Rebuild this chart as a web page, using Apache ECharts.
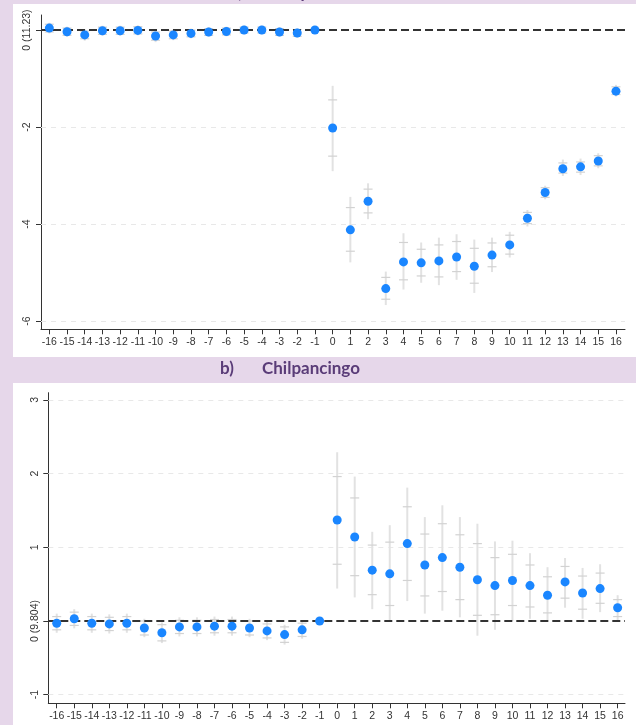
<!DOCTYPE html>
<html>
<head>
<meta charset="utf-8">
<script src="https://cdn.jsdelivr.net/npm/echarts@6/dist/echarts.min.js"></script>
<style>
  html, body { margin: 0; padding: 0; background: #e6d7ea; }
  .panel { position: absolute; left: 13px; width: 623px; background: #fff; }
  #chart { position: absolute; left: 0; top: 0; width: 636px; height: 725px; }
</style>
</head>
<body>
<div class="panel" style="top:4px;height:353px"></div>
<div class="panel" style="top:383px;height:342px"></div>
<div id="chart"></div>
<script>
const periods = [-16, -15, -14, -13, -12, -11, -10, -9, -8, -7, -6, -5, -4, -3, -2, -1,
  0, 1, 2, 3, 4, 5, 6, 7, 8, 9, 10, 11, 12, 13, 14, 15, 16];

// a) Acapulco
const acaEst = [0.04, -0.035, -0.10, -0.015, -0.015, -0.007, -0.124, -0.10, -0.07, -0.04, -0.03, 0.0, 0.0, -0.04, -0.06, 0,
  -2.02, -4.12, -3.53, -5.33, -4.78, -4.80, -4.76, -4.68, -4.87, -4.64, -4.43, -3.88, -3.35, -2.86, -2.82, -2.70, -1.26];
const acaLo95 = [-0.07, -0.14, -0.22, -0.12, -0.12, -0.11, -0.25, -0.21, -0.17, -0.14, -0.13, -0.09, -0.09, -0.14, -0.16, 0,
  -2.91, -4.79, -3.90, -5.67, -5.35, -5.21, -5.26, -5.15, -5.42, -4.99, -4.69, -4.05, -3.49, -3.01, -2.99, -2.85, -1.37];
const acaLo90 = [-0.04, -0.11, -0.18, -0.09, -0.09, -0.08, -0.21, -0.18, -0.14, -0.11, -0.10, -0.06, -0.06, -0.11, -0.13, 0,
  -2.60, -4.56, -3.77, -5.55, -5.15, -5.07, -5.09, -4.98, -5.22, -4.88, -4.62, -3.99, -3.45, -2.95, -2.93, -2.80, -1.33];
const acaHi90 = [0.12, 0.04, -0.02, 0.06, 0.06, 0.07, -0.04, -0.02, 0.0, 0.03, 0.04, 0.06, 0.06, 0.03, 0.01, 0,
  -1.44, -3.66, -3.28, -5.10, -4.38, -4.52, -4.43, -4.36, -4.50, -4.39, -4.23, -3.76, -3.25, -2.74, -2.72, -2.59, -1.17];
const acaHi95 = [0.15, 0.07, 0.02, 0.09, 0.09, 0.10, 0.0, 0.01, 0.03, 0.06, 0.07, 0.09, 0.09, 0.06, 0.04, 0,
  -1.15, -3.44, -3.16, -4.98, -4.19, -4.38, -4.28, -4.21, -4.32, -4.28, -4.16, -3.71, -3.21, -2.67, -2.65, -2.54, -1.13];
const acaYTicks = [-6, -4, -2, 0];
const acaBaseLabel = "0 (11.23)";

// b) Chilpancingo
const chilEst = [-0.03, 0.03, -0.03, -0.04, -0.03, -0.095, -0.16, -0.08, -0.08, -0.07, -0.07, -0.095, -0.135, -0.185, -0.12, 0,
  1.37, 1.14, 0.69, 0.64, 1.05, 0.76, 0.86, 0.73, 0.56, 0.48, 0.55, 0.48, 0.35, 0.53, 0.38, 0.44, 0.18];
const chilLo95 = [-0.16, -0.10, -0.16, -0.17, -0.16, -0.22, -0.30, -0.21, -0.21, -0.20, -0.20, -0.22, -0.26, -0.32, -0.24, 0,
  0.44, 0.32, 0.16, 0.00, 0.27, 0.10, 0.14, 0.05, -0.20, -0.12, 0.00, 0.03, -0.01, 0.18, 0.03, 0.12, 0.01];
const chilLo90 = [-0.12, -0.06, -0.12, -0.13, -0.12, -0.19, -0.27, -0.17, -0.17, -0.16, -0.16, -0.19, -0.23, -0.29, -0.21, 0,
  0.77, 0.615, 0.357, 0.21, 0.55, 0.34, 0.40, 0.29, 0.077, 0.085, 0.21, 0.19, 0.11, 0.31, 0.16, 0.24, 0.06];
const chilHi90 = [0.06, 0.12, 0.06, 0.05, 0.06, 0.00, -0.05, 0.01, 0.01, 0.02, 0.02, 0.00, -0.04, -0.08, -0.03, 0,
  1.96, 1.67, 1.03, 1.07, 1.55, 1.18, 1.32, 1.17, 1.05, 0.86, 0.905, 0.76, 0.60, 0.74, 0.61, 0.65, 0.29];
const chilHi95 = [0.10, 0.16, 0.10, 0.09, 0.10, 0.03, -0.02, 0.05, 0.05, 0.06, 0.06, 0.03, -0.01, -0.05, 0.01, 0,
  2.29, 1.96, 1.21, 1.30, 1.81, 1.41, 1.57, 1.41, 1.32, 1.08, 1.09, 0.92, 0.73, 0.855, 0.72, 0.77, 0.35];
const chilYTicks = [-1, 0, 1, 2, 3];
const chilBaseLabel = "0 (9.804)";

const textColor = "#333";
const dotColor = "#1a86ff";
const labelFont = "Liberation Sans";

function renderCI(params, api) {
  const x = api.value(0);
  const lo95 = api.value(1);
  const hi95 = api.value(4);
  if (lo95 === hi95) return null;
  const p1 = api.coord([x, hi95]);
  const p2 = api.coord([x, lo95]);
  const c1 = api.coord([x, api.value(3)]);
  const c2 = api.coord([x, api.value(2)]);
  const half = 4.5;
  const capStyle = { stroke: "#d2d2d2", lineWidth: 1.2 };
  return {
    type: "group",
    children: [
      { type: "line", shape: { x1: p1[0], y1: p1[1], x2: p2[0], y2: p2[1] }, style: { stroke: "#e2e2e2", lineWidth: 2 } },
      { type: "line", shape: { x1: c1[0] - half, y1: c1[1], x2: c1[0] + half, y2: c1[1] }, style: capStyle },
      { type: "line", shape: { x1: c2[0] - half, y1: c2[1], x2: c2[0] + half, y2: c2[1] }, style: capStyle },
    ],
  };
}

function makeAxes(idx, xMin, xMax, yMin, yMax, yTicks, baseLabel) {
  const xAxis = {
    type: "value", gridIndex: idx, min: xMin, max: xMax,
    axisLine: { onZero: false, lineStyle: { color: textColor } },
    axisTick: { customValues: periods, length: 5, lineStyle: { color: textColor } },
    axisLabel: { customValues: periods, color: textColor, fontSize: 10.5, fontFamily: labelFont, margin: 7 },
    splitLine: { show: false },
  };
  const yAxis = {
    type: "value", gridIndex: idx, min: yMin, max: yMax,
    axisLine: { show: true, onZero: false, lineStyle: { color: textColor } },
    axisTick: { show: true, customValues: yTicks, length: 5, lineStyle: { color: textColor } },
    axisLabel: {
      customValues: yTicks, rotate: 90, color: textColor, fontSize: 10.5, fontFamily: labelFont, margin: 8,
      formatter: (v) => (v === 0 ? baseLabel : String(v)),
    },
    splitLine: { show: false },
  };
  return { xAxis, yAxis };
}

function makeSeries(idx, est, lo95, lo90, hi90, hi95, yTicks) {
  const ciData = periods.map((p, i) => [p, lo95[i], lo90[i], hi90[i], hi95[i]]);
  const pointData = periods.map((p, i) => [p, est[i]]);
  return [
    {
      type: "scatter", xAxisIndex: idx, yAxisIndex: idx, data: [], z: 1, silent: true,
      markLine: {
        z: 1, silent: true, symbol: ["none", "none"], label: { show: false },
        lineStyle: { color: "#e8e8e8", type: [5, 5], width: 1 },
        data: yTicks.filter((v) => v !== 0).map((v) => ({ yAxis: v })),
      },
    },
    {
      type: "custom", xAxisIndex: idx, yAxisIndex: idx, data: ciData, z: 2, silent: true,
      encode: { x: 0, y: [1, 4] }, renderItem: renderCI,
    },
    {
      type: "scatter", xAxisIndex: idx, yAxisIndex: idx, data: [], z: 3, silent: true,
      markLine: {
        z: 3, silent: true, symbol: ["none", "none"], label: { show: false },
        lineStyle: { color: "#333", type: [8, 4], width: 1.8 },
        data: [{ yAxis: 0 }],
      },
    },
    {
      type: "scatter", xAxisIndex: idx, yAxisIndex: idx, data: pointData, z: 4,
      symbolSize: 9, itemStyle: { color: dotColor, opacity: 1 },
    },
  ];
}

const chart = echarts.init(document.getElementById("chart"), null, { renderer: "canvas" });

const acaAxes = makeAxes(0, -16.47, 16.51, -6.17, 0.31, acaYTicks, acaBaseLabel);
const chilAxes = makeAxes(1, -16.48, 16.42, -1.117, 3.098, chilYTicks, chilBaseLabel);

const titleStyle = { fill: "#5a3c78", font: "bold 17px Lato", textVerticalAlign: "middle" };

chart.setOption({
  backgroundColor: "transparent",
  animation: false,
  grid: [
    { left: 41, right: 11, top: 15, height: 314.3 },
    { left: 48.3, right: 11, top: 392.7, height: 310.6 },
  ],
  xAxis: [acaAxes.xAxis, chilAxes.xAxis],
  yAxis: [acaAxes.yAxis, chilAxes.yAxis],
  series: [
    ...makeSeries(0, acaEst, acaLo95, acaLo90, acaHi90, acaHi95, acaYTicks),
    ...makeSeries(1, chilEst, chilLo95, chilLo90, chilHi90, chilHi95, chilYTicks),
  ],
  graphic: [
    { type: "text", left: 230, top: -16, style: { text: "a)", ...titleStyle } },
    { type: "text", left: 272, top: -16, style: { text: "Acapulco", ...titleStyle } },
    { type: "text", left: 220, top: 360, style: { text: "b)", ...titleStyle } },
    { type: "text", left: 262, top: 360, style: { text: "Chilpancingo", ...titleStyle } },
  ],
});
</script>
</body>
</html>
